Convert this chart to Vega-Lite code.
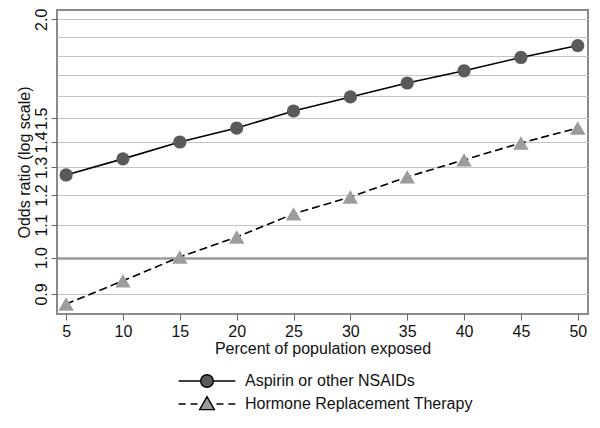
{
  "$schema": "https://vega.github.io/schema/vega-lite/v6.json",
  "autosize": {"type": "none"},
  "width": 531,
  "height": 304,
  "padding": {"left": 57, "top": 10, "right": 12, "bottom": 114},
  "background": "white",
  "config": {
    "font": "Liberation Sans",
    "view": {"stroke": "#8a8a8a", "strokeWidth": 2},
    "axis": {"domain": false, "labelColor": "#111", "titleColor": "#111", "titleFontWeight": "normal", "labelFont": "Liberation Sans", "titleFont": "Liberation Sans"},
    "legend": {
      "title": null,
      "orient": "none",
      "padding": 0,
      "direction": "vertical",
      "symbolSize": 196,
      "labelFontSize": 16,
      "labelColor": "#111",
      "labelFont": "Liberation Sans",
      "labelLimit": 0,
      "labelOffset": 30,
      "rowPadding": 2,
      "symbolStrokeWidth": 1.4
    }
  },
  "data": {"values": [
    {"pct": 5, "or": 1.272, "series": "Aspirin or other NSAIDs"},
    {"pct": 10, "or": 1.333, "series": "Aspirin or other NSAIDs"},
    {"pct": 15, "or": 1.400, "series": "Aspirin or other NSAIDs"},
    {"pct": 20, "or": 1.458, "series": "Aspirin or other NSAIDs"},
    {"pct": 25, "or": 1.532, "series": "Aspirin or other NSAIDs"},
    {"pct": 30, "or": 1.596, "series": "Aspirin or other NSAIDs"},
    {"pct": 35, "or": 1.662, "series": "Aspirin or other NSAIDs"},
    {"pct": 40, "or": 1.722, "series": "Aspirin or other NSAIDs"},
    {"pct": 45, "or": 1.790, "series": "Aspirin or other NSAIDs"},
    {"pct": 50, "or": 1.853, "series": "Aspirin or other NSAIDs"},
    {"pct": 5, "or": 0.874, "series": "Hormone Replacement Therapy"},
    {"pct": 10, "or": 0.935, "series": "Hormone Replacement Therapy"},
    {"pct": 15, "or": 1.002, "series": "Hormone Replacement Therapy"},
    {"pct": 20, "or": 1.062, "series": "Hormone Replacement Therapy"},
    {"pct": 25, "or": 1.136, "series": "Hormone Replacement Therapy"},
    {"pct": 30, "or": 1.193, "series": "Hormone Replacement Therapy"},
    {"pct": 35, "or": 1.265, "series": "Hormone Replacement Therapy"},
    {"pct": 40, "or": 1.329, "series": "Hormone Replacement Therapy"},
    {"pct": 45, "or": 1.396, "series": "Hormone Replacement Therapy"},
    {"pct": 50, "or": 1.458, "series": "Hormone Replacement Therapy"}
  ]},
  "encoding": {
    "x": {
      "field": "pct", "type": "quantitative",
      "scale": {"domain": [4.2, 50.9], "nice": false, "zero": false},
      "axis": {
        "values": [5, 10, 15, 20, 25, 30, 35, 40, 45, 50],
        "grid": false, "title": "Percent of population exposed",
        "labelFontSize": 16, "titleFontSize": 16, "tickSize": 6, "tickColor": "#666",
        "labelPadding": 3, "titlePadding": 1, "labelFlush": false, "labelOverlap": false
      }
    },
    "y": {
      "field": "or", "type": "quantitative",
      "scale": {"type": "log", "domain": [0.849, 2.055], "nice": false, "zero": false},
      "axis": {
        "values": [0.9, 1.0, 1.1, 1.2, 1.3, 1.4, 1.5, 1.6, 1.7, 1.8, 1.9, 2.0],
        "labelExpr": "datum.value > 1.55 && datum.value < 1.95 ? '' : format(datum.value, '.1f')",
        "title": "Odds ratio (log scale)",
        "labelAngle": -90, "labelAlign": "center", "labelBaseline": "bottom",
        "labelFontSize": 16, "titleFontSize": 16, "tickSize": 6,
        "tickColor": "#666", "labelOverlap": false,
        "tickOpacity": {"condition": {"test": "datum.value > 1.55 && datum.value < 1.95", "value": 0}, "value": 1},
        "labelPadding": 2, "titlePadding": 1,
        "grid": true,
        "gridColor": {"condition": {"test": "abs(datum.value - 1) < 0.01", "value": "#9a9a9a"}, "value": "#c4c4c4"},
        "gridWidth": {"condition": {"test": "abs(datum.value - 1) < 0.01", "value": 2.5}, "value": 1},
        "gridOpacity": 1
      }
    }
  },
  "layer": [
    {
      "transform": [{"filter": "datum.series === 'Aspirin or other NSAIDs'"}],
      "mark": {"type": "line", "color": "black", "strokeWidth": 1.6},
      "encoding": {}
    },
    {
      "transform": [{"filter": "datum.series === 'Hormone Replacement Therapy'"}],
      "mark": {"type": "line", "color": "black", "strokeWidth": 1.6, "strokeDash": [8, 4]},
      "encoding": {}
    },
    {
      "transform": [{"filter": "datum.series === 'Aspirin or other NSAIDs'"}],
      "mark": {"type": "point", "filled": true, "opacity": 1, "shape": "circle", "size": 175},
      "encoding": {
        "color": {
          "field": "series", "type": "nominal",
          "scale": {"domain": ["Aspirin or other NSAIDs", "Hormone Replacement Therapy"], "range": ["#5a5a5a", "#9c9c9c"]},
          "legend": {
            "legendX": 142,
            "legendY": 363,
            "encoding": {
              "symbols": {
                "shape": {"condition": {"test": "datum.value === 'Aspirin or other NSAIDs'", "value": "M-4.05,0L-0.9,0M0.9,0L4.05,0M0.9,0A0.9,0.9,0,1,1,-0.9,0A0.9,0.9,0,1,1,0.9,0Z"}, "value": "M-4.05,0L-3.05,0M-2.35,0L-1.35,0M1.35,0L2.35,0M3.05,0L4.05,0M0,-1.05L1.05,0.8L-1.05,0.8Z"},
                "stroke": {"value": "black"},
                "fill": {"condition": {"test": "datum.value === 'Aspirin or other NSAIDs'", "value": "#5a5a5a"}, "value": "#9c9c9c"},
                "opacity": {"value": 1}
              }
            }
          }
        }
      }
    },
    {
      "transform": [{"filter": "datum.series === 'Hormone Replacement Therapy'"}],
      "mark": {"type": "point", "filled": true, "opacity": 1, "shape": "triangle-up", "size": 240},
      "encoding": {
        "color": {
          "field": "series", "type": "nominal",
          "legend": {
            "legendX": 142,
            "legendY": 363,
            "encoding": {
              "symbols": {
                "shape": {"condition": {"test": "datum.value === 'Aspirin or other NSAIDs'", "value": "M-4.05,0L-0.9,0M0.9,0L4.05,0M0.9,0A0.9,0.9,0,1,1,-0.9,0A0.9,0.9,0,1,1,0.9,0Z"}, "value": "M-4.05,0L-3.05,0M-2.35,0L-1.35,0M1.35,0L2.35,0M3.05,0L4.05,0M0,-1.05L1.05,0.8L-1.05,0.8Z"},
                "stroke": {"value": "black"},
                "fill": {"condition": {"test": "datum.value === 'Aspirin or other NSAIDs'", "value": "#5a5a5a"}, "value": "#9c9c9c"},
                "opacity": {"value": 1}
              }
            }
          }
        }
      }
    }
  ]
}
